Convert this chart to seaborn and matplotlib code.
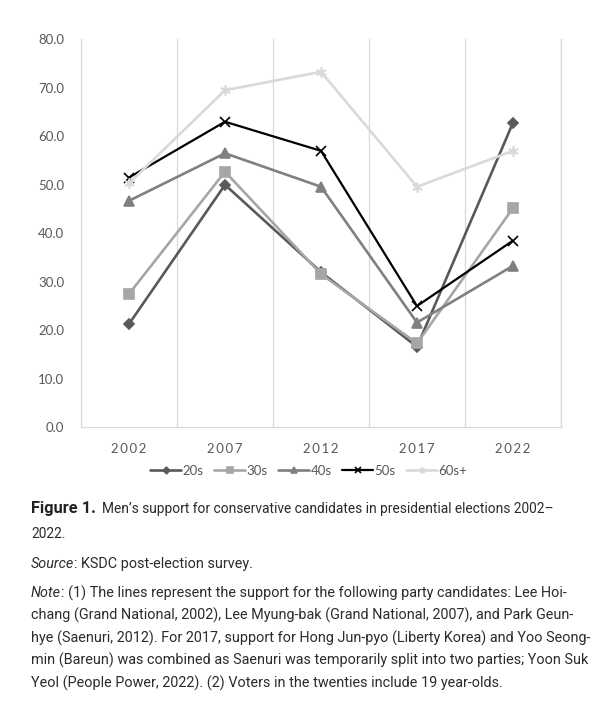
import numpy as np
import pandas as pd
import matplotlib
matplotlib.use("Agg")
import matplotlib.pyplot as plt
import seaborn as sns

# ---------------- data ----------------
years = ["2002", "2007", "2012", "2017", "2022"]
groups = ["20s", "30s", "40s", "50s", "60s+"]
s20 = [21.3, 50.0, 32.0, 16.6, 62.8]
s30 = [27.5, 52.7, 31.6, 17.3, 45.2]
s40 = [46.7, 56.5, 49.6, 21.6, 33.3]
s50 = [51.5, 63.0, 57.0, 25.0, 38.5]
s60 = [50.3, 69.5, 73.3, 49.6, 57.0]
yticks = [0, 10, 20, 30, 40, 50, 60, 70, 80]

caption_bold = "Figure 1."
caption_rest = "Men\u2019s support for conservative candidates in presidential elections 2002\u2013"
caption_line2 = "2022."
source_label = "Source"
source_text = ": KSDC post-election survey."
note_label = "Note"
note_lines = [
    ": (1) The lines represent the support for the following party candidates: Lee Hoi-",
    "chang (Grand National, 2002), Lee Myung-bak (Grand National, 2007), and Park Geun-",
    "hye (Saenuri, 2012). For 2017, support for Hong Jun-pyo (Liberty Korea) and Yoo Seong-",
    "min (Bareun) was combined as Saenuri was temporarily split into two parties; Yoon Suk",
    "Yeol (People Power, 2022). (2) Voters in the twenties include 19 year-olds.",
]

# ---------------- styling ----------------
colors = {"20s": "#595959", "30s": "#A6A6A6", "40s": "#808080", "50s": "#000000", "60s+": "#D9D9D9"}
markers = {"20s": "D", "30s": "s", "40s": "^", "50s": "x", "60s+": (6, 2, 0)}
msizes = {"20s": 5.5, "30s": 6.5, "40s": 6.5, "50s": 7, "60s+": 7.5}
lwidths = {"20s": 1.9, "30s": 1.9, "40s": 1.9, "50s": 1.6, "60s+": 1.9}

sns.set_theme(style="white")
plt.rcParams["font.family"] = ["Lato", "DejaVu Sans"]

W, H = 607, 703
fig = plt.figure(figsize=(W / 100, H / 100), dpi=100)
fig.patch.set_facecolor("white")

ax = fig.add_axes([81 / W, 1 - 427.3 / H, (561 - 81) / W, (427.3 - 39.3) / H])

df = pd.DataFrame({
    "year": np.tile(years, len(groups)),
    "support": s20 + s30 + s40 + s50 + s60,
    "group": np.repeat(groups, len(years)),
})

lines = []
for g in groups:
    sub = df[df["group"] == g]
    c = colors[g]
    sns.lineplot(data=sub, x="year", y="support", color=c, marker=markers[g],
                 markersize=msizes[g], markerfacecolor=c, markeredgecolor=c,
                 markeredgewidth=1.2, linewidth=lwidths[g], sort=False,
                 legend=False, ax=ax)
    lines.append(ax.lines[-1])

ax.set_xlim(-0.5, len(years) - 0.5)
ax.set_ylim(0, 80)
ax.set_yticks(yticks)
ax.set_yticklabels([f"{v:.1f}" for v in yticks])
ax.set_xticks(range(len(years)))
ax.set_xticklabels(["\u2009".join(y) for y in years],
                   fontfamily=["Lato", "DejaVu Sans"])
ax.set_xlabel("")
ax.set_ylabel("")
ax.tick_params(axis="both", length=0, labelsize=9.5, labelcolor="#595959")
ax.tick_params(axis="y", pad=12)
ax.tick_params(axis="x", pad=11)

ax.set_xticks(np.arange(-0.5, len(years), 1.0), minor=True)
ax.grid(False)
ax.grid(True, which="minor", axis="x", color="#D9D9D9", linewidth=0.9)
ax.tick_params(which="minor", length=0)
ax.spines["top"].set_visible(False)
for side in ["left", "right", "bottom"]:
    ax.spines[side].set_color("#D9D9D9")
    ax.spines[side].set_linewidth(0.9)

# legend
leg = fig.legend(lines, groups, ncol=5, loc="center",
                 bbox_to_anchor=(309 / W, 1 - 471 / H), frameon=False,
                 fontsize=9.5, handlelength=2.3, handletextpad=0.15,
                 columnspacing=0.8, markerscale=0.6, labelcolor="#595959")

# ---------------- caption ----------------
renderer = fig.canvas.get_renderer()
FAM = ["Roboto", "DejaVu Sans"]


def text_width(s, **kw):
    t = fig.text(0, 0, s + "x", **kw)
    w1 = t.get_window_extent(renderer).width
    t.remove()
    t = fig.text(0, 0, "x", **kw)
    w2 = t.get_window_extent(renderer).width
    t.remove()
    return w1 - w2


def draw_parts(x_px, baseline_px, parts):
    x = x_px
    for s, kw in parts:
        fig.text(x / W, 1 - baseline_px / H, s, va="baseline", ha="left", **kw)
        x += text_width(s, **kw)


base = 10.0
w = text_width(note_lines[1], family=FAM, fontsize=base)
fs_note = base * (573 - 31) / w

wb = text_width(caption_bold, family=FAM, fontsize=base, fontweight="bold")
fs_bold = base * (96 - 31) / wb
wr = text_width(caption_rest, family=FAM, fontsize=base)
fs_cap = base * (555 - 102) / wr

TXT = "#2b2b2b"
reg_cap = dict(family=FAM, fontsize=fs_cap, color=TXT)
bold_cap = dict(family=FAM, fontsize=fs_bold, color="#222222", fontweight="bold")
reg = dict(family=FAM, fontsize=fs_note, color=TXT)
ital = dict(family=FAM, fontsize=fs_note, color=TXT, style="italic")

x0 = 31
fig.text(x0 / W, 1 - 512.7 / H, caption_bold, va="baseline", ha="left", **bold_cap)
fig.text(102 / W, 1 - 512.7 / H, caption_rest, va="baseline", ha="left", **reg_cap)
draw_parts(x0, 537.7, [(caption_line2, reg_cap)])
draw_parts(x0, 567.7, [(source_label, ital), (source_text, reg)])
note_baselines = [597.3, 620.0, 642.3, 664.7, 687.3]
draw_parts(x0, note_baselines[0], [(note_label, ital), (note_lines[0], reg)])
for s, b in zip(note_lines[1:], note_baselines[1:]):
    draw_parts(x0, b, [(s, reg)])

fig.savefig("out.png", dpi=100, facecolor="white")
